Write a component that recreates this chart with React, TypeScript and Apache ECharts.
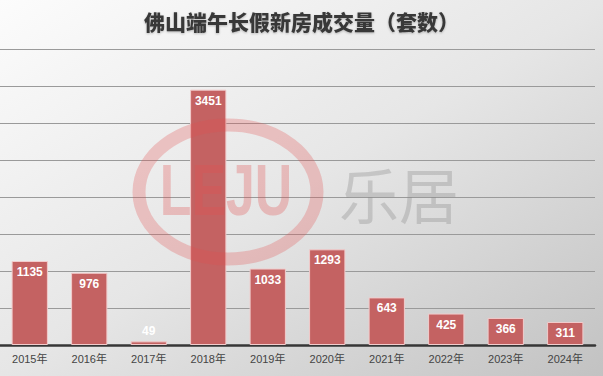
import React, { useEffect, useRef } from "react";
import * as echarts from "echarts";

const categories = ["2015年", "2016年", "2017年", "2018年", "2019年", "2020年", "2021年", "2022年", "2023年", "2024年"];
const values = [1135, 976, 49, 3451, 1033, 1293, 643, 425, 366, 311];
const titleText = "佛山端午长假新房成交量（套数）";

export default function App() {
  const ref = useRef<HTMLDivElement>(null);
  useEffect(() => {
    document.body.style.margin = "0";
    const chart = echarts.init(ref.current!, null, { renderer: "svg" });
    chart.setOption({
      animation: false,
      backgroundColor: {
        type: "linear", x: 0, y: 0, x2: 1, y2: 1,
        colorStops: [
          { offset: 0, color: "#fcfcfc" },
          { offset: 0.5, color: "#e6e6e6" },
          { offset: 1, color: "#c2c2c2" },
        ],
      },
      title: {
        text: titleText,
        left: "center",
        top: 5,
        textStyle: {
          fontSize: 21,
          fontWeight: 900,
          color: "#383838",
          fontFamily: "Noto Sans CJK SC",
          textShadowColor: "rgba(0,0,0,0.25)",
          textShadowBlur: 2,
          textShadowOffsetY: 1,
        },
      },
      grid: { left: 0, right: 8, top: 49, bottom: 31, containLabel: false },
      xAxis: {
        type: "category",
        data: categories,
        axisLine: { lineStyle: { color: "#363636", width: 2.5 } },
        axisTick: { show: false },
        axisLabel: { color: "#444", fontSize: 11, margin: 8, fontFamily: "Liberation Sans, Noto Sans CJK SC" },
      },
      yAxis: {
        type: "value",
        min: 0,
        max: 4000,
        interval: 500,
        axisLabel: { show: false },
        axisLine: { show: false },
        axisTick: { show: false },
        splitLine: { lineStyle: { color: "#9a9a9a", width: 1 } },
      },
      series: [
        {
          type: "bar",
          barWidth: "61%",
          data: values.map((v) => ({
            value: v,
            label: v < 200 ? { position: "top", distance: 4 } : undefined,
          })),
          itemStyle: { color: "#c46262", borderColor: "#f2cccc", borderWidth: 1 },
          label: {
            show: true,
            position: "insideTop",
            distance: 5,
            color: "#fff",
            fontWeight: "bold",
            fontSize: 12,
            fontFamily: "Liberation Sans",
          },
        },
      ],
      graphic: [
        {
          type: "ellipse",
          shape: { cx: 228, cy: 192, rx: 89, ry: 67 },
          style: { fill: "none", stroke: "rgba(225,80,80,0.28)", lineWidth: 13 },
          z: 100,
          silent: true,
        },
        {
          type: "text",
          x: 226,
          y: 190,
          scaleX: 0.72,
          style: {
            text: "LEJU",
            fontSize: 72,
            fontWeight: "bold",
            fontFamily: "Liberation Sans",
            fill: "rgba(225,80,80,0.3)",
            align: "center",
            verticalAlign: "middle",
          },
          z: 100,
          silent: true,
        },
        {
          type: "text",
          x: 399,
          y: 192,
          style: {
            text: "乐居",
            fontSize: 60,
            fontWeight: "normal",
            fontFamily: "Noto Sans CJK SC",
            fill: "rgba(140,140,140,0.35)",
            align: "center",
            verticalAlign: "middle",
          },
          z: 100,
          silent: true,
        },
      ],
    });
    return () => chart.dispose();
  }, []);
  return <div ref={ref} style={{ width: 603, height: 376 }} />;
}
